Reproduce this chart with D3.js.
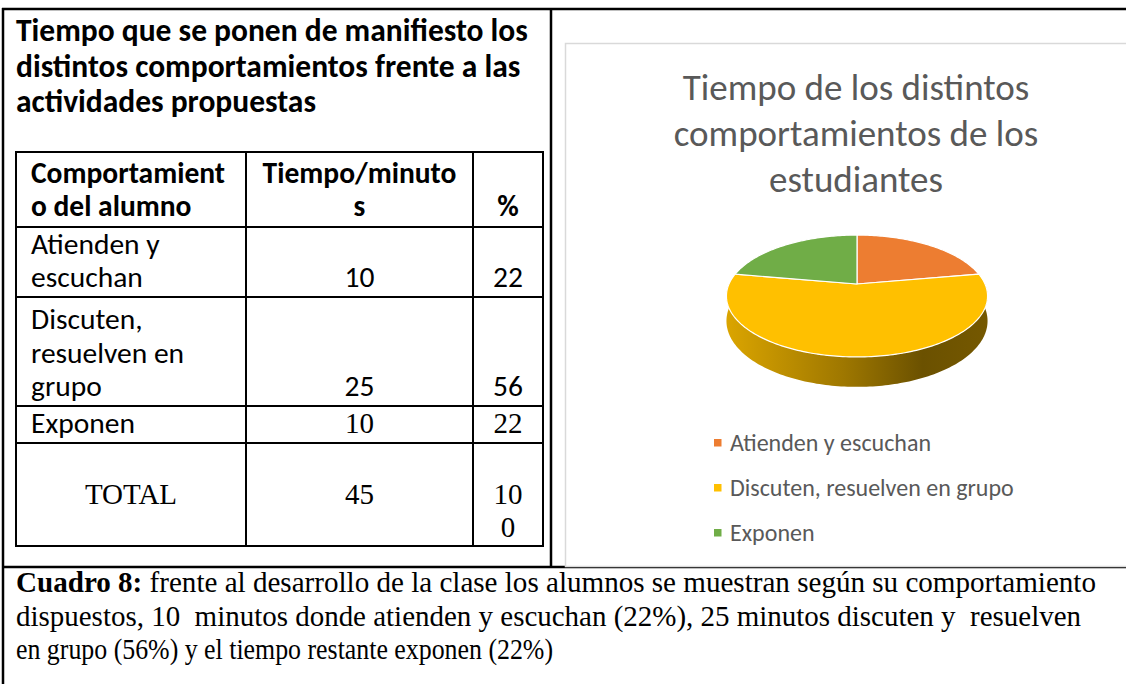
<!DOCTYPE html>
<html>
<head>
<meta charset="utf-8">
<script src="https://cdn.jsdelivr.net/npm/d3@7"></script>
<style>
  body { margin: 0; background: #fff; }
  text { white-space: pre; }
</style>
</head>
<body>
<script>
var width = 1126,
    height = 684;

// data, as in the document table
var categories = ["Atienden y escuchan", "Discuten, resuelven en grupo", "Exponen"];
var minutes = [10, 25, 10];
var percents = [22, 56, 22];
var totalMinutes = 45,
    totalPercent = 100;
var colors = ["#ED7D31", "#FFC000", "#70AD47"];

// the texts as they wrap in the document
var leftTitle = ["Tiempo que se ponen de manifiesto los", "distintos comportamientos frente a las", "actividades propuestas"];
var headLabels = [["Comportamient", "o del alumno"], ["Tiempo/minuto", "s"], ["%"]];
var rowLabels = [["Atienden y", "escuchan"], ["Discuten,", "resuelven en", "grupo"], ["Exponen"]];
var chartTitle = ["Tiempo de los distintos", "comportamientos de los", "estudiantes"];
var captionLines = [
  ["Cuadro 8:", " frente al desarrollo de la clase los alumnos se muestran según su comportamiento"],
  ["", "dispuestos, 10  minutos donde atienden y escuchan (22%), 25 minutos discuten y  resuelven"],
  ["", "en grupo (56%) y el tiempo restante exponen (22%)"]
];

var sans = "Carlito, Lato, 'Open Sans', sans-serif",
    serif = "'Liberation Serif', 'Times New Roman', serif";

var svg = d3.select("body").append("svg")
    .attr("width", width)
    .attr("height", height);

svg.append("rect").attr("width", width).attr("height", height).attr("fill", "#fff");

// ---- page frame ----
var frame = svg.append("g").attr("stroke", "#000").attr("stroke-width", 2.5);
frame.append("line").attr("x1", 2).attr("x2", width).attr("y1", 9).attr("y2", 9);
frame.append("line").attr("x1", 3).attr("x2", 3).attr("y1", 8).attr("y2", height);
frame.append("line").attr("x1", 551).attr("x2", 551).attr("y1", 8).attr("y2", 567);
frame.append("line").attr("x1", 2).attr("x2", width).attr("y1", 567).attr("y2", 567);

// ---- left title ----
svg.append("g").selectAll("text")
  .data(leftTitle)
  .enter().append("text")
    .attr("x", 16)
    .attr("y", function(d, i) { return 41 + i * 35.5; })
    .attr("font-family", sans)
    .attr("font-weight", "bold")
    .attr("font-size", 31.5)
    .attr("fill", "#000")
    .text(function(d) { return d; });

// ---- table ----
var colX = [16, 246, 473, 543];
var rowY = [152, 227, 297, 406, 443, 546];
var lineH = 33.5;

var table = svg.append("g");
table.append("g").attr("stroke", "#000").attr("stroke-width", 2)
  .selectAll("line.h").data(rowY).enter().append("line")
    .attr("x1", colX[0] - 1).attr("x2", colX[3] + 1)
    .attr("y1", function(d) { return d; }).attr("y2", function(d) { return d; });
table.append("g").attr("stroke", "#000").attr("stroke-width", 2)
  .selectAll("line.v").data(colX).enter().append("line")
    .attr("y1", rowY[0] - 1).attr("y2", rowY[5] + 1)
    .attr("x1", function(d) { return d; }).attr("x2", function(d) { return d; });

function cellText(lines, col, rowBottom, opts) {
  var n = lines.length;
  var cx = opts.align === "start" ? colX[col] + 15 : (colX[col] + colX[col + 1]) / 2;
  lines.forEach(function(t, i) {
    table.append("text")
      .attr("x", cx)
      .attr("y", rowBottom - opts.pad - (n - 1 - i) * lineH)
      .attr("text-anchor", opts.align)
      .attr("font-family", opts.font)
      .attr("font-weight", opts.bold ? "bold" : "normal")
      .attr("font-size", opts.size)
      .attr("fill", "#000")
      .text(t);
  });
}

// header
cellText(headLabels[0], 0, rowY[1], {align: "start", font: sans, bold: true, size: 29.5, pad: 11});
cellText(headLabels[1], 1, rowY[1], {align: "middle", font: sans, bold: true, size: 29.5, pad: 11});
cellText(headLabels[2], 2, rowY[1], {align: "middle", font: sans, bold: true, size: 29.5, pad: 11});

// data rows (last row in the document uses a serif for the numbers)
rowLabels.forEach(function(lines, i) {
  var bottom = rowY[i + 2];
  var numFont = i === 2 ? serif : sans;
  var numSize = i === 2 ? 29 : 29.5;
  cellText(lines, 0, bottom, {align: "start", font: sans, size: 29.5, pad: 10});
  cellText([String(minutes[i])], 1, bottom, {align: "middle", font: numFont, size: numSize, pad: 10});
  cellText([String(percents[i])], 2, bottom, {align: "middle", font: numFont, size: numSize, pad: 10});
});

// total row
var totalBottom = rowY[5] - lineH;
cellText(["TOTAL"], 0, totalBottom, {align: "middle", font: serif, size: 29, pad: 9});
cellText([String(totalMinutes)], 1, totalBottom, {align: "middle", font: serif, size: 29, pad: 9});
var pctStr = String(totalPercent);
cellText([pctStr.slice(0, 2), pctStr.slice(2)], 2, rowY[5], {align: "middle", font: serif, size: 29, pad: 9});

// ---- chart area ----
svg.append("rect")
    .attr("x", 565.5).attr("y", 43.5)
    .attr("width", 600).attr("height", 523)
    .attr("fill", "#fff")
    .attr("stroke", "#d9d9d9")
    .attr("stroke-width", 1.5);

svg.append("g").selectAll("text")
  .data(chartTitle)
  .enter().append("text")
    .attr("x", 856)
    .attr("y", function(d, i) { return 100 + i * 46; })
    .attr("text-anchor", "middle")
    .attr("font-family", sans)
    .attr("font-weight", 300)
    .attr("font-size", 37)
    .attr("fill", "#595959")
    .text(function(d) { return d; });

// 3d pie: angles from d3.pie, projected with a little perspective
var data = categories.map(function(c, i) { return {name: c, minutes: minutes[i], color: colors[i]}; });
var pie = d3.pie().sort(null).value(function(d) { return d.minutes; });
var arcs = pie(data);

var P = {cx: 857, cy: 284, a: 58.6, b: 128, p: 0.197, h: 24};
function proj(t, dz) {
  var u = Math.sin(t), v = Math.cos(t), s = 1 / (1 + P.p * v);
  return [P.cx + P.b * u * s, P.cy - P.a * v * s + dz * s];
}
function sample(a0, a1, dz) {
  var n = Math.max(2, Math.ceil(Math.abs(a1 - a0) / 0.02)), pts = [];
  for (var i = 0; i <= n; i++) pts.push(proj(a0 + (a1 - a0) * i / n, dz));
  return pts;
}
var line = d3.line();

var defs = svg.append("defs");
var pieG = svg.append("g");

// side wall (front half only)
arcs.forEach(function(d, i) {
  var a0 = Math.max(d.startAngle, Math.PI / 2),
      a1 = Math.min(d.endAngle, 3 * Math.PI / 2);
  if (a1 <= a0) return;
  var base = d3.rgb(d.data.color);
  var grad = defs.append("linearGradient")
      .attr("id", "wall" + i)
      .attr("gradientUnits", "userSpaceOnUse")
      .attr("x1", P.cx - P.b - 3).attr("x2", P.cx + P.b + 3)
      .attr("y1", 0).attr("y2", 0);
  [[0, 0.86], [0.45, 0.62], [0.75, 0.42], [1, 0.46]].forEach(function(s) {
    grad.append("stop").attr("offset", s[0])
      .attr("stop-color", d3.rgb(base.r * s[1], base.g * s[1], base.b * s[1]));
  });
  var pts = sample(a0, a1, 0).concat(sample(a1, a0, P.h));
  pieG.append("path")
      .attr("d", line(pts) + "Z")
      .attr("fill", "url(#wall" + i + ")");
});

// top face
pieG.selectAll("path.slice")
  .data(arcs)
  .enter().append("path")
    .attr("class", "slice")
    .attr("d", function(d) {
      return line([[P.cx, P.cy]].concat(sample(d.startAngle, d.endAngle, 0))) + "Z";
    })
    .attr("fill", function(d) { return d.data.color; })
    .attr("stroke", "#fff")
    .attr("stroke-width", 1.2)
    .attr("stroke-linejoin", "round");

// legend
var legend = svg.append("g").selectAll("g")
  .data(data)
  .enter().append("g")
    .attr("transform", function(d, i) { return "translate(714," + (443 + i * 45) + ")"; });
legend.append("rect")
    .attr("x", 0).attr("y", -4)
    .attr("width", 7.5).attr("height", 7.5)
    .attr("fill", function(d) { return d.color; });
legend.append("text")
    .attr("x", 16).attr("y", 8)
    .attr("font-family", sans)
    .attr("font-size", 24)
    .attr("fill", "#595959")
    .text(function(d) { return d.name; });

// ---- caption ----
var capWidths = [1080, 1065, 537];
var cap = svg.append("g").selectAll("text")
  .data(captionLines)
  .enter().append("text")
    .attr("x", 16)
    .attr("y", function(d, i) { return 592 + i * 33.5; })
    .attr("font-family", serif)
    .attr("font-size", 29)
    .attr("fill", "#000")
    .attr("textLength", function(d, i) { return capWidths[i]; })
    .attr("lengthAdjust", "spacingAndGlyphs");
cap.append("tspan").attr("font-weight", "bold").text(function(d) { return d[0]; });
cap.append("tspan").text(function(d) { return d[1]; });
</script>
</body>
</html>
